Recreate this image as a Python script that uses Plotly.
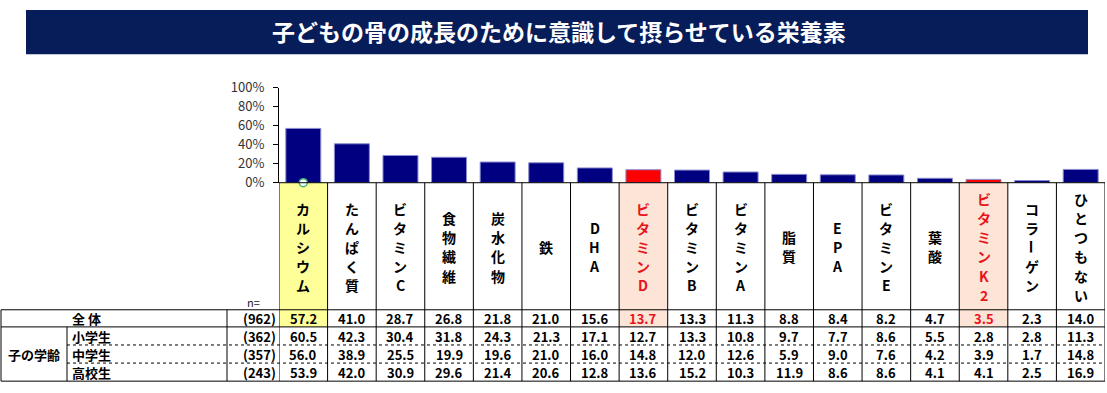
import plotly.graph_objects as go

W, H = 1107, 393

categories = ["カルシウム", "たんぱく質", "ビタミンC", "食物繊維", "炭水化物", "鉄", "DHA",
              "ビタミンD", "ビタミンB", "ビタミンA", "脂質", "EPA", "ビタミンE", "葉酸",
              "ビタミンK2", "コラーゲン", "ひとつもない"]
total = [57.2, 41.0, 28.7, 26.8, 21.8, 21.0, 15.6, 13.7, 13.3, 11.3, 8.8, 8.4, 8.2, 4.7, 3.5, 2.3, 14.0]
elementary = [60.5, 42.3, 30.4, 31.8, 24.3, 21.3, 17.1, 12.7, 13.3, 10.8, 9.7, 7.7, 8.6, 5.5, 2.8, 2.8, 11.3]
junior_high = [56.0, 38.9, 25.5, 19.9, 19.6, 21.0, 16.0, 14.8, 12.0, 12.6, 5.9, 9.0, 7.6, 4.2, 3.9, 1.7, 14.8]
high_school = [53.9, 42.0, 30.9, 29.6, 21.4, 20.6, 12.8, 13.6, 15.2, 10.3, 11.9, 8.6, 8.6, 4.1, 4.1, 2.5, 16.9]
row_labels = ["全 体", "小学生", "中学生", "高校生"]
row_n = ["(962)", "(362)", "(357)", "(243)"]
group_label = "子の学齢"
title = "子どもの骨の成長のために意識して摂らせている栄養素"
yticks = [0, 20, 40, 60, 80, 100]

highlight_yellow = {0}
highlight_red = {7, 14}

NAVY = "#000080"
RED = "#ff0000"
TXT_RED = "#e8141c"
YELLOW = "#ffff99"
PEACH = "#fce4d6"
FONT = "Noto Sans CJK JP"


def px(p):
    return p / W


def py(p):
    return 1 - p / H


n = len(categories)
col_left, col_right = 279, 1105
axis_zero, axis_top = 181.5, 81.7
row_edges = [315, 333, 352, 371, 390]

fig = go.Figure()
bar_colors = [RED if i in highlight_red else NAVY for i in range(n)]
fig.add_trace(go.Bar(
    x=list(range(n)), y=total, width=0.72,
    marker=dict(color=bar_colors, line=dict(color="#8c8cd0", width=1)),
    hoverinfo="skip", showlegend=False,
))
fig.add_trace(go.Scatter(
    x=[0], y=[0], mode="markers", cliponaxis=False,
    marker=dict(size=8, color="white", line=dict(color="#3cb371", width=1.5)),
    hoverinfo="skip", showlegend=False,
))

shapes = []
ann = []

# title bar
shapes.append(dict(type="rect", xref="paper", yref="paper", x0=px(26), x1=px(1088),
                   y0=py(46.5), y1=py(0), fillcolor="#071d59", line=dict(width=0), layer="below"))
ann.append(dict(text=f"<b>{title}</b>", xref="paper", yref="paper", x=px(559), y=py(22.5),
                xanchor="center", yanchor="middle", showarrow=False,
                font=dict(family=FONT, size=23, color="white")))

# header cell fills
for i in range(n):
    fill = YELLOW if i in highlight_yellow else (PEACH if i in highlight_red else None)
    if fill:
        shapes.append(dict(type="rect", xref="x", yref="paper", x0=i - 0.5, x1=i + 0.5,
                           y0=py(row_edges[1]), y1=py(axis_zero), fillcolor=fill,
                           line=dict(width=0), layer="below"))

line_black = dict(color="black", width=1)
shapes.append(dict(type="line", xref="paper", yref="paper", x0=px(col_left), x1=px(col_right),
                   y0=py(axis_zero), y1=py(axis_zero), line=line_black))
for i in range(n + 1):
    shapes.append(dict(type="line", xref="x", yref="paper", x0=i - 0.5, x1=i - 0.5,
                       y0=py(axis_zero), y1=py(row_edges[-1]), line=line_black))
shapes.append(dict(type="line", xref="paper", yref="paper", x0=px(1), x1=px(col_right),
                   y0=py(row_edges[0]), y1=py(row_edges[0]), line=line_black))
shapes.append(dict(type="line", xref="paper", yref="paper", x0=px(1), x1=px(col_right),
                   y0=py(row_edges[1]), y1=py(row_edges[1]), line=line_black))
for e in row_edges[2:4]:
    shapes.append(dict(type="line", xref="paper", yref="paper", x0=px(67), x1=px(col_right),
                       y0=py(e), y1=py(e), line=dict(color="black", width=1, dash="dot")))
shapes.append(dict(type="line", xref="paper", yref="paper", x0=px(1), x1=px(col_right),
                   y0=py(row_edges[-1]), y1=py(row_edges[-1]), line=line_black))
shapes.append(dict(type="line", xref="paper", yref="paper", x0=px(1), x1=px(1),
                   y0=py(row_edges[0]), y1=py(row_edges[-1]), line=line_black))
shapes.append(dict(type="line", xref="paper", yref="paper", x0=px(67), x1=px(67),
                   y0=py(row_edges[1]), y1=py(row_edges[-1]), line=line_black))
shapes.append(dict(type="line", xref="paper", yref="paper", x0=px(227), x1=px(227),
                   y0=py(row_edges[0]), y1=py(row_edges[-1]), line=line_black))

# vertical category labels (one character per line)
pitch = 20
mid = 249
for i, lab in enumerate(categories):
    color = TXT_RED if i in highlight_red else "black"
    chars = list(lab)
    m = len(chars)
    for k, ch in enumerate(chars):
        yk = mid + (k - (m - 1) / 2) * pitch
        ann.append(dict(text=f"<b>{ch}</b>", xref="x", yref="paper", x=i, y=py(yk),
                        xanchor="center", yanchor="middle", showarrow=False,
                        textangle=90 if ch == "ー" else 0,
                        font=dict(family=FONT, size=14, color=color)))

ann.append(dict(text="n=", xref="paper", yref="paper", x=px(253), y=py(307),
                xanchor="center", yanchor="middle", showarrow=False,
                font=dict(family=FONT, size=11, color="#222")))

rows = [total, elementary, junior_high, high_school]
for r, vals in enumerate(rows):
    yc = (row_edges[r] + row_edges[r + 1]) / 2 + 0.5
    if r == 0:
        ann.append(dict(text=f"<b>{row_labels[r]}</b>", xref="paper", yref="paper", x=px(86), y=py(yc),
                        xanchor="center", yanchor="middle", showarrow=False,
                        font=dict(family=FONT, size=13, color="black")))
    else:
        ann.append(dict(text=f"<b>{row_labels[r]}</b>", xref="paper", yref="paper", x=px(70), y=py(yc),
                        xanchor="left", yanchor="middle", showarrow=False,
                        font=dict(family=FONT, size=13, color="black")))
    ann.append(dict(text=f"<b>{row_n[r]}</b>", xref="paper", yref="paper", x=px(278), y=py(yc),
                    xanchor="right", yanchor="middle", showarrow=False,
                    font=dict(family=FONT, size=13, color="black")))
    for i, v in enumerate(vals):
        color = TXT_RED if (r == 0 and i in highlight_red) else "black"
        ann.append(dict(text=f"<b>{v:.1f}</b>", xref="x", yref="paper", x=i, y=py(yc),
                        xanchor="center", yanchor="middle", showarrow=False,
                        font=dict(family=FONT, size=13, color=color)))

ann.append(dict(text=f"<b>{group_label}</b>", xref="paper", yref="paper", x=px(34),
                y=py((row_edges[1] + row_edges[-1]) / 2), xanchor="center", yanchor="middle",
                showarrow=False, font=dict(family=FONT, size=13, color="black")))

fig.update_layout(
    width=W, height=H, autosize=False,
    margin=dict(l=0, r=0, t=0, b=0),
    paper_bgcolor="white", plot_bgcolor="white",
    xaxis=dict(domain=[px(col_left), px(col_right)], range=[-0.5, n - 0.5],
               visible=False, fixedrange=True),
    yaxis=dict(domain=[py(axis_zero), py(axis_top)], range=[0, 100],
               tickvals=yticks, ticktext=[f"{t}%" for t in yticks],
               showline=True, linecolor="black", linewidth=1,
               ticks="outside", ticklen=5, tickcolor="black",
               showgrid=False, zeroline=False, ticklabelstandoff=6,
               tickfont=dict(family=FONT, size=13, color="#333"), fixedrange=True),
    shapes=shapes, annotations=ann, bargap=0.28,
)

fig.write_html("out.html", config={"displayModeBar": False},
               post_script="document.body.style.margin='0';document.body.style.overflow='hidden';")
